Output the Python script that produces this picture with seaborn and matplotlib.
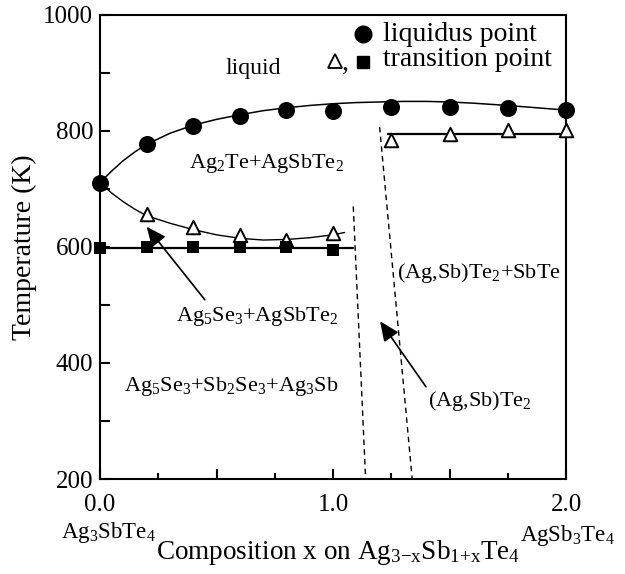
import numpy as np
import pandas as pd
import matplotlib
matplotlib.use("Agg")
import matplotlib.pyplot as plt
import seaborn as sns

# ---------------- data ----------------
liq_x = [0.0, 0.2, 0.4, 0.6, 0.8, 1.0, 1.25, 1.5, 1.75, 2.0]
liq_T = [711, 777, 809, 826, 837, 835, 842, 841, 839, 836]

tri_x = [0.2, 0.4, 0.6, 0.8, 1.0, 1.25, 1.5, 1.75, 2.0]
tri_T = [657, 635, 620, 612, 624, 784, 794, 802, 801]

sq_x = [0.0, 0.2, 0.4, 0.6, 0.8, 1.0]
sq_T = [598, 600, 600, 600, 600, 594]

# liquidus curve (fitted line in the reference)
liqcurve_x = [0.0, 0.05, 0.1, 0.15, 0.2, 0.3, 0.4, 0.5, 0.6, 0.7, 0.8, 0.9,
              1.0, 1.1, 1.2, 1.3, 1.4, 1.5, 1.6, 1.75, 2.0]
liqcurve_T = [711, 731, 749, 764, 777, 796, 810, 820, 828, 835, 840, 844,
              847, 849, 850, 851, 851, 850, 848, 844, 836]

# lower (solvus) curve
solcurve_x = [0.0, 0.05, 0.1, 0.15, 0.2, 0.3, 0.4, 0.5, 0.6, 0.7, 0.8, 0.9, 1.0, 1.05]
solcurve_T = [711, 693, 678, 665, 654, 641, 630, 621, 615, 612, 613, 616, 621, 625]

# horizontal transition lines
low_line_x = [0.0, 1.087]
low_line_T = [599, 599]
up_line_x = [1.235, 2.0]
up_line_T = [794, 794]

# dashed phase boundaries
dash1_x = [1.087, 1.14]
dash1_T = [670, 200]
dash2_x = [1.20, 1.34]
dash2_T = [807, 200]

x_major = [0.0, 0.5, 1.0, 1.5, 2.0]
x_major_labels = ["0.0", "", "1.0", "", "2.0"]
x_minor = [0.25, 0.75, 1.25, 1.75]
y_ticks = [200, 300, 400, 500, 600, 700, 800, 900, 1000]
y_labels = ["200", "", "400", "", "600", "", "800", "", "1000"]

# ---------------- style ----------------
sns.set_theme(style="ticks")
plt.rcParams["font.family"] = ["Liberation Serif", "DejaVu Serif"]
plt.rcParams["mathtext.fontset"] = "custom"
plt.rcParams["mathtext.rm"] = "Liberation Serif"
plt.rcParams["mathtext.it"] = "Liberation Serif:italic"
plt.rcParams["mathtext.bf"] = "Liberation Serif:bold"
for k in ["text.color", "axes.labelcolor", "xtick.color", "ytick.color", "axes.edgecolor"]:
    plt.rcParams[k] = "black"

fig = plt.figure(figsize=(6.25, 5.74), dpi=100)
ax = fig.add_axes([0.16, 0.1655, 0.7456, 0.8084])

# lines
sns.lineplot(x=liqcurve_x, y=liqcurve_T, ax=ax, color="black", lw=1.1,
             sort=False, estimator=None)
sns.lineplot(x=solcurve_x, y=solcurve_T, ax=ax, color="black", lw=1.0,
             sort=False, estimator=None)
sns.lineplot(x=low_line_x, y=low_line_T, ax=ax, color="black", lw=1.6,
             sort=False, estimator=None)
sns.lineplot(x=up_line_x, y=up_line_T, ax=ax, color="black", lw=1.6,
             sort=False, estimator=None)
sns.lineplot(x=dash1_x, y=dash1_T, ax=ax, color="black", lw=1.0,
             linestyle=(0, (4, 3)), sort=False, estimator=None)
sns.lineplot(x=dash2_x, y=dash2_T, ax=ax, color="black", lw=1.0,
             linestyle=(0, (4, 3)), sort=False, estimator=None)

# markers
sns.scatterplot(x=liq_x, y=liq_T, ax=ax, marker="o", s=150, color="black",
                edgecolor="black", linewidth=0, zorder=4, clip_on=False)
sns.scatterplot(x=tri_x, y=tri_T, ax=ax, marker="^", s=95, facecolor="white",
                edgecolor="black", linewidth=1.4, zorder=4, clip_on=False)
sns.scatterplot(x=sq_x, y=sq_T, ax=ax, marker="s", s=85, color="black",
                edgecolor="black", linewidth=0, zorder=4, clip_on=False)

# axes
ax.set_xlim(0, 2)
ax.set_ylim(200, 1000)
ax.set_xticks(x_major)
ax.set_xticklabels(x_major_labels)
ax.set_xticks(x_minor, minor=True)
ax.set_yticks(y_ticks)
ax.set_yticklabels(y_labels)
ax.tick_params(axis="both", which="major", direction="in", length=7.2, width=1.5,
               labelsize=18, top=False, right=False)
ax.tick_params(axis="x", which="major", pad=11)
ax.tick_params(axis="y", which="major", pad=5)
ax.tick_params(axis="x", which="minor", direction="in", length=4.3, width=1.5,
               top=False)
for sp in ax.spines.values():
    sp.set_visible(True)
    sp.set_linewidth(1.5)
    sp.set_color("black")

ax.set_ylabel("Temperature (K)", fontsize=20)
ax.yaxis.set_label_coords(-0.135, 0.5)
ax.set_xlabel(r"Composition x on Ag$_{\mathrm{3{-}x}}$Sb$_{\mathrm{1{+}x}}$Te$_4$", fontsize=19.5)
ax.xaxis.set_label_coords(0.51, -0.172)
ax.xaxis.label.set_va("baseline")

ax.text(0.019, -0.127, r"Ag$_3$SbTe$_4$", transform=ax.transAxes, ha="center",
        va="baseline", fontsize=16.5)
ax.text(1.004, -0.133, r"AgSb$_3$Te$_4$", transform=ax.transAxes, ha="center",
        va="baseline", fontsize=16.5)

# legend (drawn manually)
ax.plot([0.564], [0.960], "o", transform=ax.transAxes, ms=12, color="black", clip_on=False)
ax.text(0.607, 0.957, "liquidus point", transform=ax.transAxes, fontsize=20,
        ha="left", va="center")
ax.plot([0.504], [0.901], "^", transform=ax.transAxes, ms=9.5, mfc="white",
        mec="black", mew=1.3, clip_on=False)
ax.text(0.527, 0.895, ",", transform=ax.transAxes, fontsize=20, ha="center", va="center")
ax.plot([0.564], [0.898], "s", transform=ax.transAxes, ms=9, color="black", clip_on=False)
ax.text(0.607, 0.903, "transition point", transform=ax.transAxes, fontsize=20,
        ha="left", va="center")

# phase labels
ax.text(0.657, 908, "liquid", fontsize=17, ha="center", va="center")
ax.text(0.716, 744, r"Ag$_2$Te+AgSbTe$_2$", fontsize=16, ha="center", va="center")
ax.text(0.675, 481, r"Ag$_5$Se$_3$+AgSbTe$_2$", fontsize=16, ha="center", va="center")
ax.text(0.561, 359, r"Ag$_5$Se$_3$+Sb$_2$Se$_3$+Ag$_3$Sb", fontsize=16, ha="center", va="center")
ax.text(1.624, 555, r"(Ag,Sb)Te$_2$+SbTe", fontsize=16, ha="center", va="center")
ax.text(1.631, 334, r"(Ag,Sb)Te$_2$", fontsize=16, ha="center", va="center")

# arrows
ax.annotate("", xy=(0.2, 635), xytext=(0.45, 509),
            arrowprops=dict(arrowstyle="-|>,head_length=0.5,head_width=0.22",
                            color="black", lw=1.2,
                            mutation_scale=24, shrinkA=0, shrinkB=0))
ax.annotate("", xy=(1.202, 472), xytext=(1.399, 359),
            arrowprops=dict(arrowstyle="-|>,head_length=0.5,head_width=0.22",
                            color="black", lw=1.2,
                            mutation_scale=24, shrinkA=0, shrinkB=0))

fig.savefig("out.png", dpi=100)
